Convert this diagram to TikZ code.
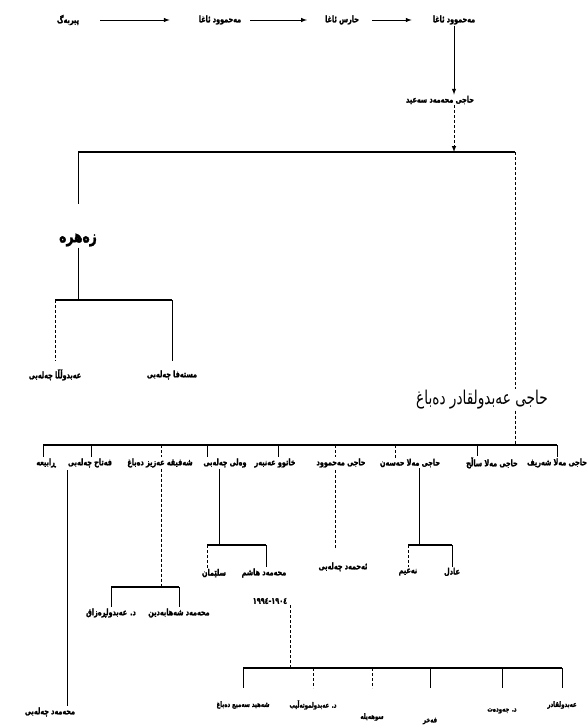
\documentclass[tikz,border=0pt]{standalone}
\usepackage{fontspec}
\usetikzlibrary{arrows}
\TeXXeTstate=1
\newfontfamily\kufont[Script=Arabic,FakeStretch=0.72,BoldFeatures={FakeBold=1.6}]{DejaVu Sans}
\newcommand{\ku}[1]{{\kufont\beginR #1\endR}}

\begin{document}
\begin{tikzpicture}[x=1pt,y=-1pt,
  person/.style={font=\bfseries\fontsize{9}{10}\selectfont,inner sep=1pt},
  smallperson/.style={font=\bfseries\fontsize{7.5}{8}\selectfont,inner sep=1pt},
  bigperson/.style={font=\bfseries\fontsize{17}{19}\selectfont,inner sep=1pt},
  headname/.style={font=\fontsize{19}{21}\selectfont,inner sep=1pt},
  link/.style={line width=0.7pt},
  dlink/.style={line width=0.7pt,densely dashed},
  hbar/.style={line width=1.2pt},
  arr/.style={-latex,line width=1pt}]
\useasboundingbox (0,0) rectangle (587,728);

\node[person] (pir) at (68,20) {\ku{پیربەگ}};
\node[person] (mahA) at (220,20) {\ku{مەحموود ئاغا}};
\node[person] (haris) at (342,20) {\ku{حارس ئاغا}};
\node[person] (mahB) at (454,20) {\ku{مەحموود ئاغا}};
\node[person] (said) at (440,100) {\ku{حاجی محەمەد سەعید}};
\node[bigperson] (zahra) at (78,240) {\ku{زەهرە}};
\node[person] (abdulla) at (55,375) {\ku{عەبدوڵڵا چەلەبی}};
\node[person] (mustafa) at (172,375) {\ku{مستەفا چەلەبی}};
\node[headname] (dabbagh) at (482,400) {\ku{حاجی عەبدولقادر دەباغ}};

\node[person] (k1) at (46,463) {\ku{ڕابیعە}};
\node[person] (k2) at (90,463) {\ku{فەتاح چەلەبی}};
\node[person] (k3) at (160,463) {\ku{شەفیقە عەزیز دەباغ}};
\node[person] (k4) at (225,463) {\ku{وەلی چەلەبی}};
\node[person] (k5) at (275,463) {\ku{خاتوو عەنبەر}};
\node[person] (k6) at (341,463) {\ku{حاجی مەحموود}};
\node[person] (k7) at (410,463) {\ku{حاجی مەلا حەسەن}};
\node[person] (k8) at (492,463) {\ku{حاجی مەلا ساڵح}};
\node[person] (k9) at (557,463) {\ku{حاجی مەلا شەریف}};

\node[person] (g1) at (111,613) {\ku{د. عەبدولڕەزاق}};
\node[person] (g2) at (179,613) {\ku{محەمەد شەهابەدین}};
\node[person] (s1) at (214,573) {\ku{سلێمان}};
\node[person] (s2) at (264,573) {\ku{محەمەد هاشم}};
\node[person] (yrs) at (270,601) {\kufont ١٩٠٤-١٩٩٤};
\node[person] (ahmad) at (343,567) {\ku{ئەحمەد چەلەبی}};
\node[person] (n1) at (408,572) {\ku{نەعیم}};
\node[person] (n2) at (452,572) {\ku{عادل}};
\node[person] (mhd) at (50,712) {\ku{محەمەد چەلەبی}};

\node[smallperson] (b1) at (243,705) {\ku{شەهید سەمیع دەباغ}};
\node[smallperson] (b2) at (313,705) {\ku{د. عەبدولموتەڵیب}};
\node[smallperson] (b3) at (372,717) {\ku{سوهەیلە}};
\node[smallperson] (b4) at (430,721) {\ku{فەخر}};
\node[smallperson] (b5) at (502,711) {\ku{د. جەودەت}};
\node[smallperson] (b6) at (562,705) {\ku{عەبدولقادر}};

\draw[arr,shorten <=20pt,shorten >=28pt] (pir) -- (mahA);
\draw[arr,shorten <=8pt,shorten >=17pt] (mahA) -- (haris);
\draw[arr,shorten <=12pt,shorten >=20pt] (haris) -- (mahB);
\draw[arr] (mahB) -- (mahB |- said.north);

\coordinate (top) at (454,152);
\coordinate (topL) at (78,152);
\coordinate (topR) at (515,152);
\draw[arr,densely dashed] (said.south -| top) -- (top);
\draw[hbar] (topL) -- (topR);
\draw[link,shorten >=28pt] (topL) -- (zahra.north);
\draw[dlink] (topR) -- (topR |- dabbagh.north);

\coordinate (zc) at (78,300);
\draw[link] (zahra.south) -- (zc);
\draw[hbar] (abdulla.north |- zc) -- (mustafa.north |- zc);
\draw[dlink,shorten >=8pt] (abdulla.north |- zc) -- (abdulla.north);
\draw[link,shorten >=8pt] (mustafa.north |- zc) -- (mustafa.north);

\coordinate (dc) at (515,445);
\draw[dlink] (dabbagh.south -| dc) -- (dc);
\draw[hbar] (43,445) -- (557,445);
\foreach \x/\n/\s in {43/k1/link,91/k2/link,161/k3/dlink,207/k4/link,278/k5/link,
  335/k6/dlink,395/k7/dlink,477/k8/link,557/k9/link}
  \draw[\s] (\x,445) coordinate (d) -- (d |- \n.north);

\coordinate (k2d) at (67,470);
\draw[link] (k2d) -- (k2d |- mhd.north);

\coordinate (k3j) at (161,587);
\draw[dlink] (k3.south -| k3j) -- (k3j);
\draw[hbar] (g1.north |- k3j) -- (g2.north |- k3j);
\draw[link] (g1.north |- k3j) -- (g1.north);
\draw[link] (g2.north |- k3j) -- (g2.north);

\coordinate (k4j) at (219,545);
\coordinate (s1j) at (207,545);
\coordinate (s2j) at (266,545);
\draw[link] (k4.south -| k4j) -- (k4j);
\draw[hbar] (s1j) -- (s2j);
\draw[dlink] (s1j) -- (s1j |- s1.north);
\draw[link] (s2j) -- (s2j |- s2.north);

\coordinate (k6d) at (335,470);
\draw[dlink,shorten >=12pt] (k6d) -- (k6d |- ahmad.north);

\coordinate (k7j) at (419,545);
\draw[link] (k7.south -| k7j) -- (k7j);
\draw[hbar] (n1.north |- k7j) -- (n2.north |- k7j);
\draw[dlink] (n1.north |- k7j) -- (n1.north);
\draw[link] (n2.north |- k7j) -- (n2.north);

\coordinate (yj) at (290,668);
\coordinate (ybot) at (0,688);
\draw[dlink] (yrs.south -| yj) -- (yj);
\draw[hbar] (b1.north |- yj) -- (b6.north |- yj);
\foreach \n/\s in {b1/link,b2/dlink,b3/dlink,b4/link,b5/link,b6/link}
  \draw[\s] (\n.north |- yj) -- (\n.north |- ybot);
\end{tikzpicture}
\end{document}
